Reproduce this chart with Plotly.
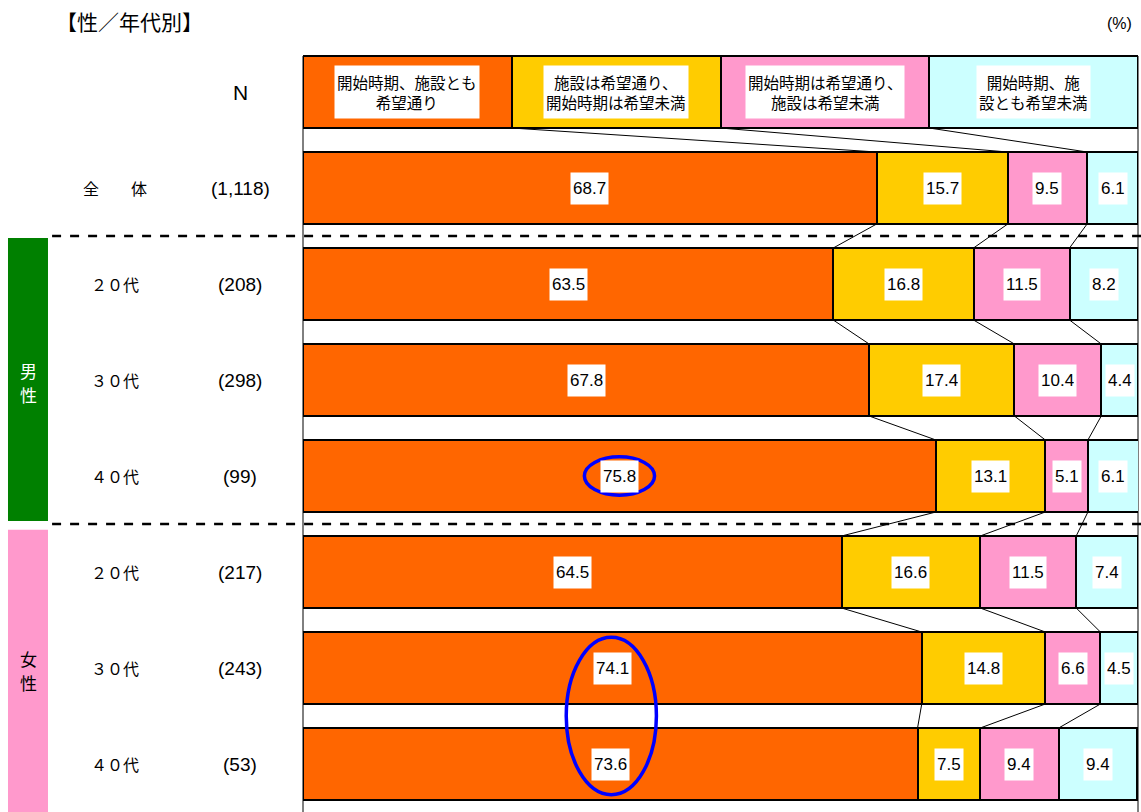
import plotly.graph_objects as go

# ---- data ----
rows = ["全　　体", "２０代", "３０代", "４０代", "２０代", "３０代", "４０代"]
n_labels = ["(1,118)", "(208)", "(298)", "(99)", "(217)", "(243)", "(53)"]
series_names = ["開始時期、施設とも<br>希望通り", "施設は希望通り、<br>開始時期は希望未満",
                "開始時期は希望通り、<br>施設は希望未満", "開始時期、施<br>設とも希望未満"]
s1 = [68.7, 63.5, 67.8, 75.8, 64.5, 74.1, 73.6]
s2 = [15.7, 16.8, 17.4, 13.1, 16.6, 14.8, 7.5]
s3 = [9.5, 11.5, 10.4, 5.1, 11.5, 6.6, 9.4]
s4 = [6.1, 8.2, 4.4, 6.1, 7.4, 4.5, 9.4]
groups = [["男", "性"], ["女", "性"]]

colors = ["#FF6600", "#FFCC00", "#FF99CC", "#CCFFFF"]
series = [s1, s2, s3, s4]
FONT = "Liberation Sans, Arial, Noto Sans CJK JP, sans-serif"
CJK = "Noto Sans CJK JP, sans-serif"
LEG_W = 25  # header legend boxes: equal quarters
BAR_W = 0.75

ys = list(range(1, len(rows) + 1))
fig = go.Figure()

# header legend row
for i in range(4):
    fig.add_trace(go.Bar(x=[LEG_W], y=[0], orientation="h",
                         marker=dict(color=colors[i], line=dict(color="black", width=2)),
                         width=BAR_W, showlegend=False, hoverinfo="skip"))
for i, s in enumerate(series):
    fig.add_trace(go.Bar(x=s, y=ys, orientation="h",
                         marker=dict(color=colors[i], line=dict(color="black", width=2)),
                         width=BAR_W, showlegend=False, hoverinfo="skip"))

# cumulative boundaries
cums = [[LEG_W * (k + 1) for k in range(3)]]
for r in range(len(rows)):
    c, acc = [], 0
    for k in range(3):
        acc += series[k][r]
        c.append(acc)
    cums.append(c)

# connector lines
cx, cy = [], []
for r in range(len(cums) - 1):
    for k in range(3):
        cx += [cums[r][k], cums[r + 1][k], None]
        cy += [r + BAR_W / 2, r + 1 - BAR_W / 2, None]
fig.add_trace(go.Scatter(x=cx, y=cy, mode="lines", line=dict(color="black", width=1),
                         showlegend=False, hoverinfo="skip"))

ann = []
# value labels
for r in range(len(rows)):
    acc = 0
    for k in range(4):
        v = series[k][r]
        ann.append(dict(x=acc + v / 2, y=r + 1, text=f"{v:.1f}", showarrow=False, bgcolor="white",
                        borderpad=2, height=27, font=dict(family=FONT, size=17, color="black")))
        acc += v
# legend texts
for k in range(4):
    ann.append(dict(x=LEG_W * k + LEG_W / 2, y=0, text=series_names[k], showarrow=False, bgcolor="white",
                    borderpad=2, height=48, font=dict(family=CJK, size=15.5, color="black")))
# row labels and N
for r in range(len(rows)):
    ann.append(dict(xref="paper", x=-0.225, xanchor="center", y=r + 1, text=rows[r], showarrow=False,
                    font=dict(family=CJK, size=16, color="black")))
    ann.append(dict(xref="paper", x=-0.0754, xanchor="center", y=r + 1, text=n_labels[r], showarrow=False,
                    font=dict(family=FONT, size=19, color="black")))
ann.append(dict(xref="paper", x=-0.0754, xanchor="center", y=0, text="N", showarrow=False,
                font=dict(family=FONT, size=21, color="black")))
# group labels (one character per line)
for gi, (yc, col) in enumerate(((3, "white"), (6, "black"))):
    for li, ch in enumerate(groups[gi]):
        ann.append(dict(xref="paper", x=-0.3293, xanchor="center", y=yc, yshift=(12 - 24 * li) - 2,
                        text=ch, showarrow=False, font=dict(family=CJK, size=17, color=col)))
# title and unit
ann.append(dict(xref="paper", yref="paper", x=-0.298, y=1.0, yanchor="bottom", xanchor="left", yshift=6,
                text="【性／年代別】", showarrow=False, font=dict(family=CJK, size=21, color="black")))
ann.append(dict(xref="paper", yref="paper", x=0.995, y=1.0, yanchor="bottom", xanchor="right", yshift=10,
                text="(%)", showarrow=False, font=dict(family=FONT, size=16, color="black")))

shapes = []
# frame verticals (left and right edges of the bar area, from header top down)
for xv in (0, 1):
    shapes.append(dict(type="line", xref="paper", yref="y", x0=xv, x1=xv, y0=-BAR_W / 2, y1=7.5,
                       line=dict(color="black", width=1), layer="below"))
# group bands
shapes.append(dict(type="rect", xref="paper", yref="y", x0=-0.3533, x1=-0.3054, y0=1.52, y1=4.47,
                   fillcolor="#008000", line=dict(width=0), layer="below"))
shapes.append(dict(type="rect", xref="paper", yref="y", x0=-0.3533, x1=-0.3054, y0=4.56, y1=7.6,
                   fillcolor="#FF99CC", line=dict(width=0), layer="below"))
# dashed separators
for yv in (1.5, 4.5):
    shapes.append(dict(type="line", xref="paper", yref="y", x0=-0.3005, x1=1.01, y0=yv, y1=yv,
                       line=dict(color="black", width=2.5, dash="dash")))
# highlight ellipses
e1x = s1[3] / 2
shapes.append(dict(type="circle", xref="x", yref="y", x0=e1x - 4.2, x1=e1x + 4.2, y0=4 - 0.2, y1=4 + 0.2,
                   line=dict(color="#0000FF", width=3.5)))
e2x = (s1[5] + s1[6]) / 4
shapes.append(dict(type="circle", xref="x", yref="y", x0=e2x - 5.4, x1=e2x + 5.4, y0=5.68, y1=7.32,
                   line=dict(color="#0000FF", width=3.5)))

fig.update_layout(
    barmode="stack", width=1141, height=812,
    margin=dict(l=303, r=3, t=44, b=0),
    plot_bgcolor="white", paper_bgcolor="white",
    xaxis=dict(range=[0, 100], showgrid=False, zeroline=False, showticklabels=False, ticks="", showline=False),
    yaxis=dict(range=[7.5, -0.5], showgrid=False, zeroline=False, showticklabels=False, ticks="",
               showline=False),
    annotations=ann, shapes=shapes, bargap=0.25,
)
fig.write_html("out.html", config={"displayModeBar": False},
               post_script="document.body.style.margin='0';document.body.style.overflow='hidden';")
